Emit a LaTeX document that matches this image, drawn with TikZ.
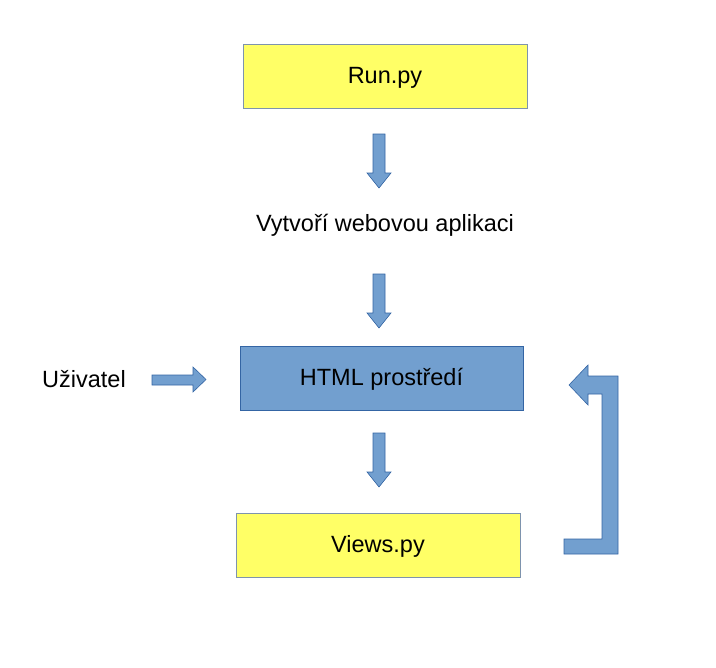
\documentclass[tikz,border=0pt]{standalone}
\usepackage{fontspec}
\setmainfont{Liberation Sans}
\usetikzlibrary{positioning, calc}
\definecolor{boxyellow}{HTML}{FFFF66}
\definecolor{boxblue}{HTML}{729FCF}
\definecolor{lineblue}{HTML}{3465A4}
\definecolor{linegray}{HTML}{7E93AD}

\begin{document}
\begin{tikzpicture}[x=1bp,y=-1bp,
  font=\fontsize{23.5bp}{28bp}\selectfont,
  filebox/.style={draw=linegray,line width=0.8pt,fill=boxyellow,minimum width=284bp,minimum height=64bp,inner sep=0pt},
  webbox/.style={draw=lineblue,line width=0.7pt,fill=boxblue,minimum width=283bp,minimum height=64bp,inner sep=0pt},
  textrow/.style={text height=17bp,text depth=2bp},
  blockarrow/.style={draw=lineblue,line width=0.6pt,fill=boxblue}]
\useasboundingbox (0,0) rectangle (716,668);
\draw 	(385,76) node[filebox,textrow](run){Run.py}
		(385,224) node[textrow](app){Vytvoří webovou aplikaci}
		(381.5,378) node[webbox,textrow](html){HTML prostředí}
		(84,380) node[textrow](user){Uživatel}
		(378,545) node[filebox,textrow](views){Views.py};
% down arrows
\foreach \top in {134,274,433}
  \draw[blockarrow] (373,\top) -- (385,\top) -- (385,\top+39) -- (391,\top+39) -- (379,\top+54)
        -- (367,\top+39) -- (373,\top+39) -- cycle;
% arrow from user
\draw[blockarrow] (152,375) -- (193,375) -- (193,367) -- (206,379.5) -- (193,392) -- (193,385) -- (152,385) -- cycle;
% back arrow from views
\draw[blockarrow] (618,376) -- (618,554) -- (564,554) -- (564,539) -- (602,539) -- (602,394) -- (588,394)
        -- (588,405) -- (569,385) -- (588,365) -- (588,376) -- cycle;
\end{tikzpicture}
\end{document}
